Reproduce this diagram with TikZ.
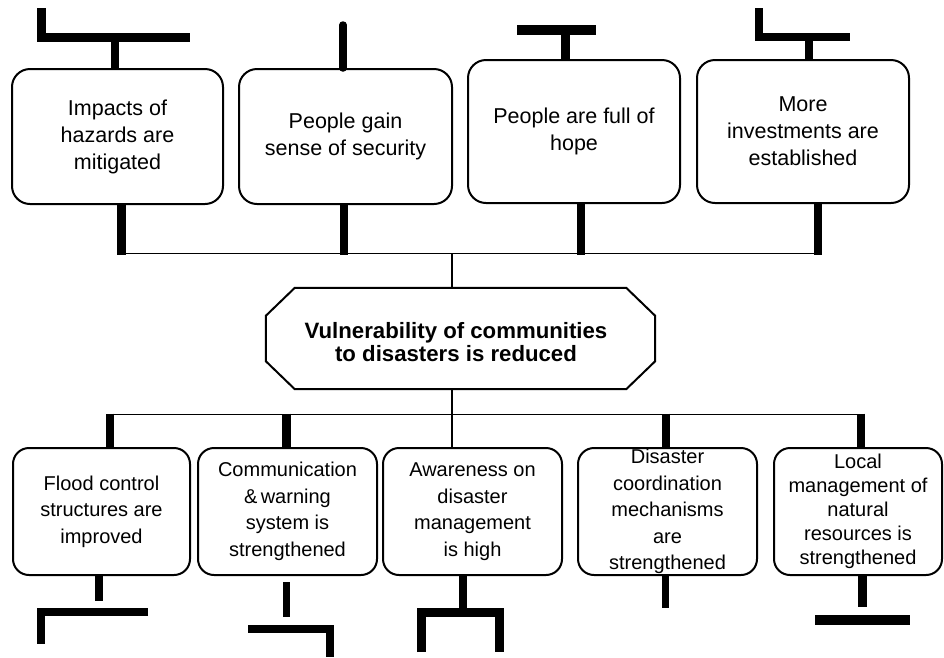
\documentclass[tikz,border=0pt]{standalone}
\usepackage{fontspec}
\setmainfont{Liberation Sans}
\begin{document}
\begin{tikzpicture}[x=1pt,y=-1pt,
  box/.style={draw, line width=2pt, rounded corners=18pt, inner sep=0pt, align=center, anchor=center},
  topbox/.style={box, font=\fontsize{21.5}{27}\selectfont},
  botbox/.style={box, rounded corners=16pt, font=\fontsize{20}{26.5}\selectfont},
  octtext/.style={inner sep=0pt, align=center, font=\bfseries\fontsize{22.2}{23.5}\selectfont},
  heavy/.style={line width=8.5pt},
  slim/.style={line width=1.8pt}]
\useasboundingbox (0,0) rectangle (944,657);

% top boxes
\node[topbox, minimum width=211pt, minimum height=135pt] (T1) at (117.5,136.5) {Impacts of\\hazards are\\mitigated};
\node[topbox, minimum width=213pt, minimum height=135pt] (T2) at (345.5,136.5) {People gain\\sense of security};
\node[topbox, minimum width=212pt, minimum height=143pt] (T3) at (574,131.5) {People are full of\\hope};
\node[topbox, minimum width=212pt, minimum height=143pt] (T4) at (803,131.5) {More\\investments are\\established};

% octagon
\node[octtext, minimum width=389pt, minimum height=101pt] (oct) at (460.5,338.5) {};
\node[octtext] (octlabel) at (456,342) {Vulnerability of communities\\to disasters is reduced};
\draw[line width=2pt] ([xshift=29pt]oct.north west) -- ([xshift=-29pt]oct.north east) -- ([yshift=-28pt]oct.north east) -- ([yshift=28pt]oct.south east) -- ([xshift=-29pt]oct.south east) -- ([xshift=29pt]oct.south west) -- ([yshift=28pt]oct.south west) -- ([yshift=-28pt]oct.north west) -- cycle;

% bottom boxes
\node[botbox, minimum width=177pt, minimum height=127pt] (B1) at (101.5,511.5) {Flood control\\structures are\\improved};
\node[botbox, minimum width=179pt, minimum height=127pt] (B2) at (287.5,511.5) {Communication\\\&\,warning\\system is\\strengthened};
\node[botbox, minimum width=179pt, minimum height=127pt] (B3) at (472.5,511.5) {Awareness on\\disaster\\management\\is high};
\node[botbox, minimum width=179pt, minimum height=127pt] (B4) at (667.5,511.5) {Disaster\\coordination\\mechanisms\\are\\strengthened};
\node[botbox, minimum width=168pt, minimum height=127pt, font=\fontsize{20}{24}\selectfont] (B5) at (858,511.5) {Local\\management of\\natural\\resources is\\strengthened};

% upper bus
\coordinate (u1) at (121.5,253.5);
\coordinate (u2) at (344,253.5);
\coordinate (u3) at (581,253.5);
\coordinate (u4) at (818,253.5);
\coordinate (uc) at (452,253.5);
\draw[heavy] (T1.south -| u1) -- ([yshift=-1pt]u1);
\draw[heavy] (T2.south -| u2) -- ([yshift=-1pt]u2);
\draw[heavy] (T3.south -| u3) -- ([yshift=-1pt]u3);
\draw[heavy] (T4.south -| u4) -- ([yshift=-1pt]u4);
\draw[slim] (u1) -- (u4);
\draw[slim] (uc) -- (oct.north -| uc);

% lower bus
\coordinate (d1) at (110,414.5);
\coordinate (d2) at (286.5,414.5);
\coordinate (dc) at (452,414.5);
\coordinate (d4) at (666,414.5);
\coordinate (d5) at (861,414.5);
\draw[slim] (oct.south -| dc) -- (dc);
\draw[slim] (d1) -- (d5);
\draw[heavy] ([yshift=1pt]d1) -- (B1.north -| d1);
\draw[heavy] ([yshift=1pt]d2) -- (B2.north -| d2);
\draw[slim] (dc) -- (B3.north -| dc);
\draw[heavy] ([yshift=1pt]d4) -- (B4.north -| d4);
\draw[heavy] ([yshift=1pt]d5) -- (B5.north -| d5);

% fragments above top boxes
\coordinate (f1a) at (41.5,8);
\coordinate (f1b) at (190,37.5);
\coordinate (f1s) at (115,42);
\draw[heavy, line width=9pt] (f1a) |- (f1b);
\draw[heavy, line width=7.5pt] (T1.north -| f1s) -- (f1s);
\coordinate (f2s) at (343,25);
\draw[heavy, line width=7.5pt, line cap=round] (T2.north -| f2s) -- (f2s);
\coordinate (f3a) at (517,30);
\coordinate (f3b) at (596,30);
\coordinate (f3s) at (565,30);
\draw[heavy, line width=10pt] (f3a) -- (f3b);
\draw[heavy, line width=9pt] (T3.north -| f3s) -- (f3s);
\coordinate (f4a) at (759,8);
\coordinate (f4b) at (850,36.5);
\coordinate (f4s) at (809,37);
\draw[heavy, line width=8pt] (f4a) |- (f4b);
\draw[heavy, line width=8pt] (T4.north -| f4s) -- (f4s);

% fragments below bottom boxes
\coordinate (g1s) at (99,601);
\coordinate (g1a) at (148,612);
\coordinate (g1b) at (41,644);
\draw[heavy, line width=8pt] (B1.south -| g1s) -- (g1s);
\draw[heavy, line width=8pt] (g1a) -| (g1b);
\coordinate (g2s) at (286.5,582);
\coordinate (g2e) at (286.5,617);
\coordinate (g2a) at (248,628.5);
\coordinate (g2b) at (330,657);
\draw[heavy, line width=7.5pt] (g2s) -- (g2e);
\draw[heavy, line width=8pt] (g2a) -| (g2b);
\coordinate (g3s) at (463,610);
\coordinate (g3a) at (421,652);
\coordinate (g3b) at (499,652);
\coordinate (g3m) at (463,612);
\draw[heavy, line width=8pt] (B3.south -| g3s) -- (g3s);
\draw[heavy, line width=9pt] (g3a) |- (g3m) -| (g3b);
\coordinate (g4s) at (665.5,608);
\draw[heavy, line width=7.5pt] (B4.south -| g4s) -- (g4s);
\coordinate (g5s) at (862,607);
\coordinate (g5a) at (815,620);
\coordinate (g5b) at (910,620);
\draw[heavy, line width=9pt] (B5.south -| g5s) -- (g5s);
\draw[heavy, line width=10pt] (g5a) -- (g5b);
\end{tikzpicture}
\end{document}
